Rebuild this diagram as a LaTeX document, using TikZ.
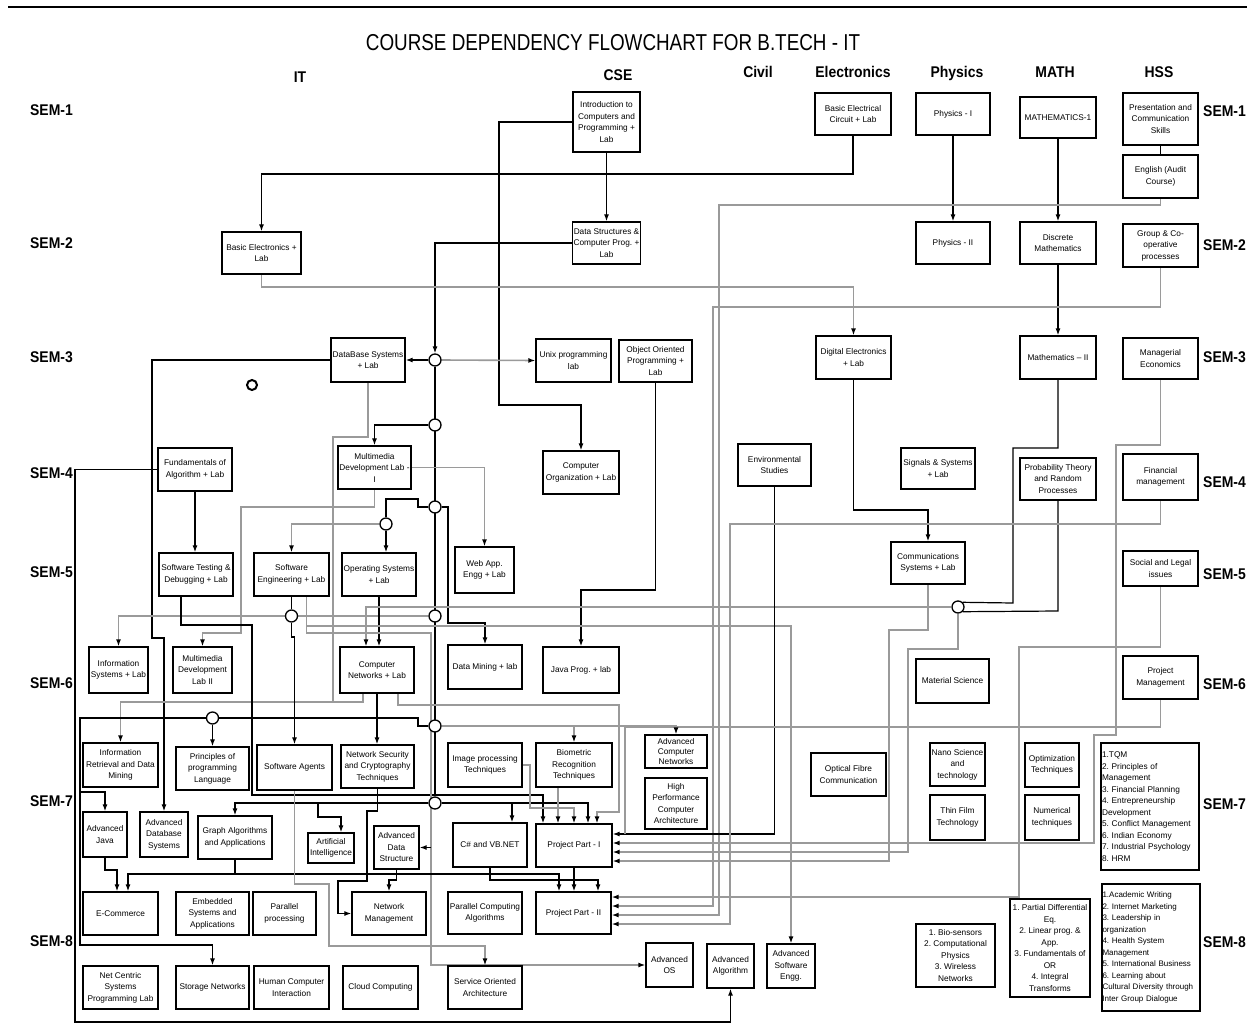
\documentclass[tikz,border=0pt]{standalone}
\usepackage{fontspec}
\setmainfont{Liberation Sans}
\newfontfamily\hdfont[FakeStretch=0.9]{Liberation Sans}
\newfontfamily\ttlfont[FakeStretch=0.82]{Liberation Sans}
\usetikzlibrary{arrows.meta}
\pgfdeclarelayer{wires}
\pgfsetlayers{wires,main}
\definecolor{wire}{HTML}{9A9A9A}
\tikzset{
  crs/.style={draw,line width=1.3pt,fill=white,inner sep=1pt,align=center,
              font=\fontsize{8.3}{11.5}\selectfont\frenchspacing},
  lst/.style={align=left},
  junc/.style={circle,draw,line width=1.3pt,fill=white,minimum size=12pt,inner sep=0pt},
  blk/.style={draw=black,line width=1.2pt},
  gry/.style={draw=wire,line width=1.6pt},
  arr/.style={-{Latex[length=7pt,width=5pt,color=black]}},
  sem/.style={font=\hdfont\bfseries\fontsize{15.5}{18}\selectfont,anchor=base},
}
% \course[opts]{name}{x1}{y1}{x2}{y2}{text}
\newcommand\course[7][]{\node[crs,minimum width={(#5)-(#3)},minimum height={(#6)-(#4)},#1]
  (#2) at ({((#3)+(#5))/2},{((#4)+(#6))/2}) {#7};}
\begin{document}
\begin{tikzpicture}[x=1pt,y=-1pt]
\useasboundingbox (0,0) rectangle (1247,1025);
\draw[line width=1.5pt] (8,7) -- (1247,7);

% title and column heads
\node[font=\ttlfont\fontsize{23}{26}\selectfont,anchor=base] (title) at (613,51) {COURSE DEPENDENCY FLOWCHART FOR B.TECH - IT};
\node[sem] (hIT) at (300,82.5) {IT};
\node[sem] (hCSE) at (618,80.5) {CSE};
\node[sem] (hCiv) at (758,77.5) {Civil};
\node[sem] (hEle) at (853,77.5) {Electronics};
\node[sem] (hPhy) at (957,77.5) {Physics};
\node[sem] (hMat) at (1055,77.5) {MATH};
\node[sem] (hHss) at (1159,77.5) {HSS};

% semester labels
\foreach \n/\yl/\yr in {1/110/111,2/243/245,3/357/357,4/473/482,5/572/574,6/683/684,7/801/804,8/941/942}{
  \node[sem,anchor=base east,inner sep=0pt] (semL\n) at (73,\yl+5.5) {SEM-\n};
  \node[sem,anchor=base west,inner sep=0pt] (semR\n) at (1203,\yr+5.5) {SEM-\n};
}

% ---------- course boxes ----------
\course{intro}{573}{92}{640}{152}{Introduction to\\Computers and\\Programming +\\Lab}
\course{bec}{815}{93}{891}{135}{Basic Electrical\\Circuit + Lab}
\course{ph1}{916}{93}{990}{135}{Physics - I}
\course{m1}{1020}{97}{1096}{138}{MATHEMATICS-1}
\course{pres}{1123}{93}{1198}{145}{Presentation and\\Communication\\Skills}
\course{eng}{1123}{155}{1198}{198}{English (Audit\\Course)}

\course{be}{222}{232}{301}{274}{Basic Electronics +\\Lab}
\course{ds}{573}{222}{640}{264}{Data Structures \&\\Computer Prog. +\\Lab}
\course{ph2}{916}{222}{990}{264}{Physics - II}
\course{dmath}{1020}{222}{1096}{264}{Discrete\\Mathematics}
\course{gco}{1123}{224}{1198}{267}{Group \& Co-\\operative\\processes}

\course{db}{331}{338}{405}{382}{DataBase Systems\\+ Lab}
\course{unix}{536}{339}{611}{382}{Unix programming\\lab}
\course{oop}{619}{340}{692}{382}{Object Oriented\\Programming +\\Lab}
\course{de}{816}{336}{891}{379}{Digital Electronics\\+ Lab}
\course{m2}{1020}{336}{1096}{379}{Mathematics – II}
\course{me}{1123}{338}{1198}{379}{Managerial\\Economics}

\course{fa}{158}{448}{232}{491}{Fundamentals of\\Algorithm + Lab}
\course{mm1}{338}{446}{411}{489}{Multimedia\\Development Lab -\\I}
\course{co}{543}{451}{619}{494}{Computer\\Organization + Lab}
\course{es}{738}{444}{811}{486}{Environmental\\Studies}
\course{ss}{901}{448}{975}{489}{Signals \& Systems\\+ Lab}
\course{pt}{1020}{458}{1096}{500}{Probability Theory\\and Random\\Processes}
\course{fm}{1123}{454}{1198}{500}{Financial\\management}

\course{st}{159}{553}{233}{596}{Software Testing \&\\Debugging + Lab}
\course{se}{254}{553}{329}{596}{Software\\Engineering + Lab}
\course{os}{342}{553}{416}{596}{Operating Systems\\+ Lab}
\course{web}{455}{547}{514}{593}{Web App.\\Engg + Lab}
\course{cs}{891}{542}{965}{584}{Communications\\Systems + Lab}
\course{sl}{1123}{551}{1198}{586}{Social and Legal\\issues}

\course{is}{89}{647}{148}{693}{Information\\Systems + Lab}
\course{mm2}{173}{647}{232}{693}{Multimedia\\Development\\Lab II}
\course{cn}{340}{647}{414}{693}{Computer\\Networks + Lab}
\course{dmin}{448}{645}{522}{689}{Data Mining + lab}
\course{java}{543}{647}{619}{693}{Java Prog. + lab}
\course{ms}{916}{659}{989}{703}{Material Science}
\course{pm}{1123}{656}{1198}{699}{Project\\Management}

\course{ir}{83}{743}{158}{787}{Information\\Retrieval and Data\\Mining}
\course{ppl}{176}{747}{249}{790}{Principles of\\programming\\Language}
\course{sa}{257}{745}{332}{790}{Software Agents}
\course{ns}{341}{745}{414}{788}{Network Security\\and Cryptography\\Techniques}
\course{ip}{448}{743}{522}{787}{Image processing\\Techniques}
\course{bio}{536}{743}{612}{787}{Biometric\\Recognition\\Techniques}
\course[font=\fontsize{8.3}{10}\selectfont]{acn}{645}{735}{707}{768}{Advanced\\Computer\\Networks}
\course{hpc}{645}{778}{707}{829}{High\\Performance\\Computer\\Architecture}
\course{ofc}{811}{753}{886}{796}{Optical Fibre\\Communication}
\course{nano}{930}{743}{985}{786}{Nano Science\\and\\technology}
\course{thin}{930}{795}{985}{840}{Thin Film\\Technology}
\course{opt}{1025}{743}{1079}{787}{Optimization\\Techniques}
\course{num}{1025}{795}{1079}{840}{Numerical\\techniques}
\course[lst,text width=96pt,inner sep=0.5pt]{hss7}{1101}{743}{1199}{870}{1.TQM\\2. Principles of\\Management\\3. Financial Planning\\4. Entrepreneurship\\Development\\5. Conflict Management\\6. Indian Economy\\7. Industrial Psychology\\8. HRM}

\course{aj}{83}{812}{127}{857}{Advanced\\Java}
\course{adbs}{140}{812}{188}{857}{Advanced\\Database\\Systems}
\course{ga}{198}{816}{272}{859}{Graph Algorithms\\and Applications}
\course{ai}{308}{833}{354}{863}{Artificial\\Intelligence}
\course{ads}{374}{826}{419}{869}{Advanced\\Data\\Structure}
\course{csharp}{453}{823}{527}{867}{C\# and VB.NET}
\course{pp1}{536}{824}{612}{867}{Project Part - I}

\course{ec}{83}{892}{158}{935}{E-Commerce}
\course{emb}{176}{892}{249}{935}{Embedded\\Systems and\\Applications}
\course{par}{253}{892}{316}{935}{Parallel\\processing}
\course{nm}{352}{892}{426}{935}{Network\\Management}
\course{pca}{448}{892}{522}{934}{Parallel Computing\\Algorithms}
\course{pp2}{536}{892}{611}{934}{Project Part - II}
\course{aos}{646}{943}{693}{987}{Advanced\\OS}
\course{aalg}{707}{944}{754}{988}{Advanced\\Algorithm}
\course{ase}{767}{944}{815}{988}{Advanced\\Software\\Engg.}
\course{bios}{916}{924}{995}{987}{1. Bio-sensors\\2. Computational\\Physics\\3. Wireless\\Networks}
\course{pde}{1010}{899}{1090}{997}{1. Partial Differential\\Eq.\\2. Linear prog. \&\\App.\\3. Fundamentals of\\OR\\4. Integral\\Transforms}
\course[lst,text width=97pt,inner sep=0.5pt,font=\fontsize{8}{11.5}\selectfont\frenchspacing]{hss8}{1102}{884}{1200}{1011}{1.Academic Writing\\2. Internet Marketing\\3. Leadership in\\organization\\4. Health System\\Management\\5. International Business\\6. Learning about\\Cultural Diversity through\\Inter Group Dialogue}

\course{ncs}{83}{966}{158}{1009}{Net Centric\\Systems\\Programming Lab}
\course{stor}{176}{966}{249}{1009}{Storage Networks}
\course{hci}{254}{966}{329}{1009}{Human Computer\\Interaction}
\course{cc}{343}{966}{418}{1009}{Cloud Computing}
\course{soa}{448}{966}{522}{1009}{Service Oriented\\Architecture}

% ---------- junctions ----------
\node[junc] (c1) at (435,360) {};
\node[junc] (c2) at (435,425) {};
\node[junc] (c3) at (435,507) {};
\node[junc] (c5) at (386,524) {};
\node[junc] (c6) at (291.5,616) {};
\node[junc] (c7) at (435,616) {};
\node[junc] (c4) at (435,726) {};
\node[junc] (c8) at (435,803) {};
\node[junc] (c9) at (212.5,718) {};
\node[junc] (c10) at (958,607) {};
\node[circle,draw,line width=2pt,minimum width=8pt,minimum height=10pt,inner sep=0pt] (ring) at (252,385) {};

% branch points on shared runs
\coordinate (tbio) at (574,726);
\coordinate (tai) at (318,803);
\coordinate (tpp) at (512,803);
\coordinate (taj) at (80,792);
\coordinate (tads) at (431,847.5);
\coordinate (tga) at (235,874);
\coordinate (tpm) at (625,834);

% ---------- connectors ----------
\begin{pgfonlayer}{wires}
% semester 1 -> 2
\draw[blk,arr] (intro.south) -- (ds.north);
\draw[blk,arr] (intro.west) -- (499,122) -- (499,405) -- (581,405) -- (co.north);
\draw[blk,arr] (bec.south) -- (853,174) -- (261.5,174) -- (be.north);
\draw[blk,arr] (ph1.south) -- (ph2.north);
\draw[blk,arr] (m1.south) -- (dmath.north);
\draw[blk] (pres.south) -- (eng.north);
% semester 2 -> 3
\draw[blk,arr] (ds.west) -- (435,243) -- (c1.north);
\draw[blk,arr] (c1.west) -- (db.east);
\draw[gry,arr] (c1.east) -- (unix.west);
\draw[gry,arr] (be.south) -- (261.5,287) -- (853.5,287) -- (de.north);
\draw[blk,arr] (dmath.south) -- (m2.north);
\draw[gry,arr] (eng.south) -- (1160.5,205) -- (719,205) -- (719,915) -- ([yshift=-2]pp2.east);
\draw[gry,arr] (gco.south) -- (1160.5,307) -- (713,307) -- (713,906) -- ([yshift=7]pp2.east);
% CSE trunk
\draw[blk] (c1.south) -- (c8.north);
\draw[blk,arr] (c2.west) -- (374.5,425) -- (mm1.north);
\draw[gry,arr] (mm1.east) -- (484.5,467.5) -- (web.north);
\draw[gry,arr] (mm1.south) -- (374.5,507) -- (241,507) -- (241,633) -- (202.5,633) -- (mm2.north);
\draw[blk] (c3.west) -- (418,507) -- (418,499) -- (386,499) -- (c5.north);
\draw[blk,arr] (c5.south) -- ([xshift=7]os.north);
\draw[gry,arr] (c5.west) -- (291.5,524) -- (se.north);
\draw[blk,arr] (c3.east) -- (448,507) -- (448,623) -- (485,623) -- (dmin.north);
\draw[blk,arr] (oop.south) -- (655.5,590) -- (581,590) -- (java.north);
% IT column
\draw[blk,arr] (fa.west) -- (75,469.5) -- (75,1022) -- (730.5,1022) -- (aalg.south);
\draw[blk,arr] (fa.south) -- (fa.south |- st.north);
\draw[blk,arr] (db.west) -- (152,360) -- (152,638) -- (164,638) -- (adbs.north);
\draw[gry,arr] (db.south) -- (368,437) -- (333,437) -- (333,702) -- (120.5,702) -- (ir.north);
\draw[gry,arr] (c7.west) -- (118.5,616) -- (is.north);
\draw[blk] (se.south) -- (c6.north);
\draw[blk,arr] (c6.south) -- (291.5,637) -- (294.5,637) -- (sa.north);
\draw[blk,arr] (os.south) -- (os.south |- cn.north);
\draw[blk,arr] ([xshift=-15]st.south) -- (181,625) -- (252,625) -- (252,795) -- (543,795) -- ([xshift=-31]pp1.north);
\draw[gry,arr] ([xshift=15]se.south) -- (306.5,626) -- (791,626) -- (ase.north);
\draw[gry,arr] ([xshift=15]se.south) -- (306.5,633) -- (431,633) -- (431,965) -- (aos.west);
% electronics / maths feeds
\draw[blk,arr] (de.south) -- (853.5,510) -- (928,510) -- (cs.north);
\draw[blk] (m2.south) -- (1058,448) -- (1013,448) -- (1013,603) -- (c10.north east);
\draw[blk] (pt.south) -- (1058,611) -- (c10.south east);
\draw[gry,arr] (c10.west) -- (366,607) -- ([xshift=-11]cn.north);
\draw[gry,arr] (c10.south) -- (958,649) -- (908,649) -- (908,852) -- ([yshift=-6.5]pp1.east);
\draw[gry,arr] (cs.south) -- (928,630) -- (889,630) -- (889,861) -- ([yshift=-15.5]pp1.east);
\draw[blk,arr] (es.south) -- (774.5,834) -- ([yshift=11.5]pp1.east);
\draw[gry] (pm.south) -- (1160.5,727) -- (625,727) -- (tpm);
\draw[gry,arr] (me.south) -- (1160.5,445) -- (1116,445) -- (1116,735) -- (1094,735) -- (1094,843) -- ([yshift=2.5]pp1.east);
\draw[gry,arr] (sl.south) -- (1160.5,647) -- (1019,647) -- (1019,897) -- ([yshift=16]pp2.east);
\draw[gry,arr] (fm.south) -- (1160.5,524) -- (730,524) -- (730,924) -- ([yshift=-11]pp2.east);
% semester 6 -> 7
\draw[gry] ([xshift=-14]cn.south) -- (363,702) -- (333,702);
\draw[blk,arr] (cn.south) -- (cn.south |- ns.north);
\draw[gry,arr] ([xshift=21]cn.south) -- (398,705) -- (619,705) -- (619,812) -- (597,812) -- ([xshift=23]pp1.north);
\draw[gry,arr] (c4.east) -- (676,726) -- (acn.north);
\draw[gry,arr] (tbio) -- (bio.north);
\draw[blk,arr] (c4.west) -- (418,726) -- (418,718) -- (80,718) -- (80,945) -- (212.5,945) -- (stor.north);
\draw[blk,arr] (taj) -- (105,792) -- (aj.north);
\draw[blk,arr] (c9.south) -- (ppl.north);
% semester 7 -> 8
\draw[blk,arr] (c8.west) -- (235,803) -- (ga.north);
\draw[blk,arr] (tai) -- (318,817) -- (341,817) -- ([xshift=10]ai.north);
\draw[blk,arr] (c8.east) -- (tpp) -- ([xshift=22]csharp.north);
\draw[blk,arr] (tpp) -- (588,803) -- ([xshift=14]pp1.north);
\draw[gry,arr] ([xshift=-16]bio.south) -- ([xshift=-16]pp1.north);
\draw[gry,arr] (ip.east) -- (530,765) -- (530,808) -- (574,808) -- (pp1.north);
\draw[blk,arr] (ns.south) -- (377.5,811) -- (367,811) -- (367,881) -- (338,881) -- (338,913.5) -- (nm.west);
\draw[blk,arr] (ads.south) -- (396.5,880) -- (389,880) -- (nm.north);
\draw[blk,arr] (tads) -- (ads.east);
\draw[blk,arr] (aj.south) -- (105,870) -- (117,870) -- ([xshift=-3.5]ec.north);
\draw[blk,arr] (ga.south) -- (tga) -- (128,874) -- ([xshift=7.5]ec.north);
\draw[blk,arr] (tga) -- (559,874) -- ([xshift=-14.5]pp2.north);
\draw[blk,arr] (pp1.south) -- (pp1.south |- pp2.north);
\draw[blk,arr] (csharp.south) -- (490,880) -- (598,880) -- ([xshift=24.5]pp2.north);
\draw[gry,arr] (sa.south) -- (294.5,884) -- (329,884) -- (329,946) -- (485,946) -- (soa.north);
\end{pgfonlayer}
\end{tikzpicture}
\end{document}
